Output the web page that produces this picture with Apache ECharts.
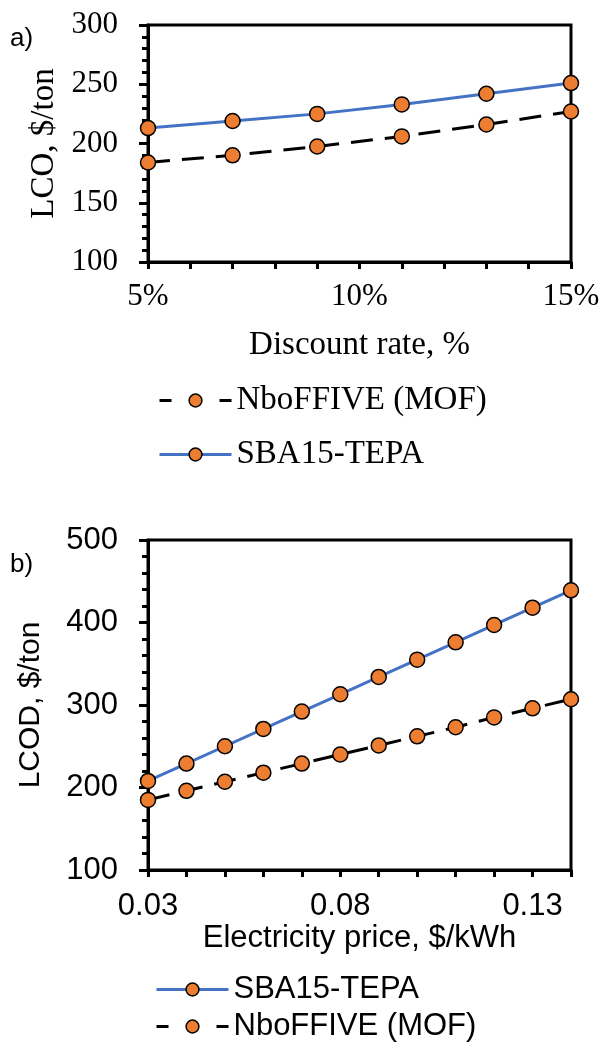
<!DOCTYPE html>
<html><head><meta charset="utf-8">
<script src="https://cdn.jsdelivr.net/npm/echarts@6/dist/echarts.min.js"></script>
<style>html,body{margin:0;padding:0;background:#fff}#c{width:603px;height:1042px}</style>
</head><body><div id="c"></div>
<script>
// Panel a: discount rate
const discountRates = [5, 7, 9, 11, 13, 15];
const lcoSBA = [213, 219, 225, 233, 242, 251];
const lcoNbo = [184, 190, 197.5, 206, 216, 227];
const aXLabels = [5, 10, 15];
// Panel b: electricity price
const elecPrices = [0.03, 0.04, 0.05, 0.06, 0.07, 0.08, 0.09, 0.10, 0.11, 0.12, 0.13, 0.14];
const lcodSBA = [208, 229, 250, 271, 292, 313, 334, 355, 376, 397, 418, 439];
const lcodNbo = [185, 196, 207, 218, 229, 240, 251, 262, 273, 285, 296, 307];
const bXLabels = [3, 8, 13]; // hundredths

const SERIF = 'Liberation Serif, Times New Roman, serif';
const SANS = 'Liberation Sans, Arial, sans-serif';
const NBO = 'NboFFIVE (MOF)', SBA = 'SBA15-TEPA';
const orange = '#ED7D31', blue = '#4472C4';

function zip(xs, ys){ return xs.map((x,i)=>[x, ys[i]]); }
function mk(name, data, xi, dashed){
  return {
    name, type:'line', xAxisIndex:xi, yAxisIndex:xi, data, clip:false,
    symbol:'circle', symbolSize:15,
    itemStyle:{color:orange, borderColor:'#000', borderWidth:1.5},
    lineStyle:{color: dashed ? '#000' : blue, width:3, type: dashed ? [22,12] : 'solid'},
    emphasis:{disabled:true}, z: dashed ? 3 : 2
  };
}
function yAx(gi, min, max, interval, font, size){
  return {
    type:'value', gridIndex:gi, min, max, interval,
    axisLine:{show:true, lineStyle:{color:'#000', width:3}},
    axisTick:{show:true, inside:false, length:9, lineStyle:{color:'#000', width:3}},
    minorTick:{show:true, splitNumber:5, length:6, lineStyle:{color:'#000', width:3}},
    splitLine:{show:false}, minorSplitLine:{show:false},
    axisLabel:{color:'#000', fontFamily:font, fontSize:size, margin:30},
    nameLocation:'middle', nameRotate:90,
    nameTextStyle:{color:'#000', fontFamily:font, fontSize:size}
  };
}
function leg(name, left, top, font, size){
  const ls = name === NBO ? {color:'#000', width:3, type:[12,18]} : {color:blue, width:3, type:'solid'};
  const d = {name, itemStyle:{color:orange, borderColor:'#000', borderWidth:1.5}, lineStyle:ls};
  return {orient:'vertical', left, top, itemWidth:72, itemHeight:16, selectedMode:false,
    lineStyle:Object.assign({inactiveWidth:3}, ls),
    textStyle:{color:'#000', fontFamily:font, fontSize:size}, data:[d]};
}
const option = {
  animation:false,
  backgroundColor:'#fff',
  grid:[
    {left:148, right:32, top:25, bottom:1042-262, show:true, borderColor:'#000', borderWidth:3, containLabel:false},
    {left:148, right:32, top:540, bottom:1042-870, show:true, borderColor:'#000', borderWidth:3, containLabel:false}
  ],
  xAxis:[
    {type:'value', gridIndex:0, min:5, max:15, interval:1,
     axisLine:{lineStyle:{color:'#000', width:3}},
     axisTick:{length:7, lineStyle:{color:'#000', width:3}},
     splitLine:{show:false},
     axisLabel:{color:'#000', fontFamily:SERIF, fontSize:31, margin:19,
       formatter:v => aXLabels.indexOf(Math.round(v))>=0 ? Math.round(v)+'%' : ''},
     name:'Discount rate, %', nameLocation:'middle', nameGap:67,
     nameTextStyle:{color:'#000', fontFamily:SERIF, fontSize:33}},
    {type:'value', gridIndex:1, min:0.03, max:0.14, interval:0.01,
     axisLine:{lineStyle:{color:'#000', width:3}},
     axisTick:{length:7, lineStyle:{color:'#000', width:3}},
     splitLine:{show:false},
     axisLabel:{color:'#000', fontFamily:SANS, fontSize:31, margin:21,
       formatter:v => bXLabels.indexOf(Math.round(v*100))>=0 ? v.toFixed(2) : ''},
     name:'Electricity price, $/kWh', nameLocation:'middle', nameGap:51,
     nameTextStyle:{color:'#000', fontFamily:SANS, fontSize:31}}
  ],
  yAxis:[
    Object.assign(yAx(0, 100, 300, 50, SERIF, 31), {name:'LCO, $/ton', nameGap:86,
      nameTextStyle:{color:'#000', fontFamily:SERIF, fontSize:33}}),
    Object.assign(yAx(1, 100, 500, 100, SANS, 31), {name:'LCOD, $/ton', nameGap:102,
      nameTextStyle:{color:'#000', fontFamily:SANS, fontSize:30}})
  ],
  legend:[
    leg(NBO, 153, 379, SERIF, 33),
    leg(SBA, 153, 433, SERIF, 33),
    leg(SBA, 150, 969, SANS, 31),
    leg(NBO, 150, 1006, SANS, 31)
  ],
  graphic:[
    {type:'text', left:10, top:26, style:{text:'a)', font:'26px '+SANS, fill:'#000'}},
    {type:'text', left:10, top:552, style:{text:'b)', font:'26px '+SANS, fill:'#000'}}
  ],
  series:[
    mk(NBO, zip(discountRates, lcoNbo), 0, true),
    mk(SBA, zip(discountRates, lcoSBA), 0, false),
    mk(SBA, zip(elecPrices, lcodSBA), 1, false),
    mk(NBO, zip(elecPrices, lcodNbo), 1, true)
  ]
};
const chart = echarts.init(document.getElementById('c'), null, {renderer:'canvas'});
chart.setOption(option);
</script></body></html>
